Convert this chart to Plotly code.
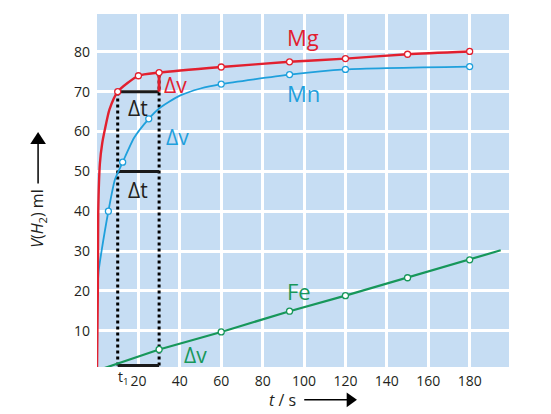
import plotly.graph_objects as go

# hydrogen volume over time for three metals
mg_t = [0, 0.4, 0.6, 1.4, 2.5, 3.8, 6, 10, 20, 30, 60, 93, 120, 150, 180]
mg_v = [0, 20, 40, 52, 57, 60.5, 65.5, 70, 74, 74.8, 76.2, 77.5, 78.3, 79.4, 80.1]
mg_pt_t = [10, 20, 30, 60, 93, 120, 150, 180]
mg_pt_v = [70, 74, 74.8, 76.2, 77.5, 78.3, 79.4, 80.1]

mn_t = [0, 0.8, 2.2, 5.5, 8.7, 12.4, 18, 25, 30, 40, 50, 60, 93, 120, 180]
mn_v = [18, 25, 30, 40, 48, 52.3, 58.5, 63.2, 65.8, 69.0, 70.8, 71.9, 74.3, 75.6, 76.3]
mn_pt_t = [5.5, 12.4, 25, 60, 93, 120, 180]
mn_pt_v = [40, 52.3, 63.2, 71.9, 74.3, 75.6, 76.3]

fe_t = [0, 30, 60, 93, 120, 150, 180, 195]
fe_v = [0, 5.3, 9.7, 14.9, 18.8, 23.3, 27.8, 30.2]
fe_pt_t = [30, 60, 93, 120, 150, 180]
fe_pt_v = [5.3, 9.7, 14.9, 18.8, 23.3, 27.8]

x_ticks = [20, 40, 60, 80, 100, 120, 140, 160, 180]
y_ticks = [10, 20, 30, 40, 50, 60, 70, 80]

t1, t2 = 10, 30
dv_low, dv_high = 70, 74.8
mid_level = 50
base_level = 1.3

RED = '#e2202f'
BLUE = '#1fa0dc'
GREEN = '#17975a'
TXT = '#231f20'
FONT = 'Open Sans'

fig = go.Figure()

def add_series(t, v, pt_t, pt_v, color, width, shape):
    fig.add_trace(go.Scatter(x=t, y=v, mode='lines',
                             line=dict(color=color, width=width, shape=shape, smoothing=0.6),
                             hoverinfo='skip'))
    fig.add_trace(go.Scatter(x=pt_t, y=pt_v, mode='markers',
                             marker=dict(symbol='circle', size=6, color='white',
                                         line=dict(color=color, width=1.3))))

# dotted verticals and delta bars
fig.add_trace(go.Scatter(x=[t1, t1], y=[base_level, dv_low], mode='lines',
                         line=dict(color='black', width=3, dash='dot')))
fig.add_trace(go.Scatter(x=[t2, t2], y=[base_level, dv_high], mode='lines',
                         line=dict(color='black', width=3, dash='dot')))
for lvl in [dv_low, mid_level, base_level]:
    fig.add_trace(go.Scatter(x=[t1, t2], y=[lvl, lvl], mode='lines',
                             line=dict(color='#1a1a1a', width=3)))
fig.add_trace(go.Scatter(x=[t2, t2], y=[dv_low, dv_high], mode='lines',
                         line=dict(color=RED, width=3)))

add_series(fe_t, fe_v, fe_pt_t, fe_pt_v, GREEN, 2.2, 'linear')
add_series(mn_t, mn_v, mn_pt_t, mn_pt_v, BLUE, 1.8, 'spline')
add_series(mg_t, mg_v, mg_pt_t, mg_pt_v, RED, 2.4, 'spline')

def label(x, y, text, color, size, **kw):
    fig.add_annotation(x=x, y=y, text=text, showarrow=False,
                       font=dict(family=FONT, size=size, color=color), **kw)

label(20, 66, 'Δt', TXT, 21)
label(20, 45.4, 'Δt', TXT, 21)
label(31.5, 71.7, 'Δv', RED, 21, xanchor='left')
label(39, 58.7, 'Δv', BLUE, 21)
label(47.8, 3.8, 'Δv', GREEN, 21)
label(99.5, 83.8, 'Mg', RED, 22)
label(99.5, 69.7, 'Mn', BLUE, 22)
label(97.6, 19.9, 'Fe', GREEN, 22)

# t1 under the axis
fig.add_annotation(x=t1, y=0, yref='paper', xshift=6, yshift=-10, yanchor='middle',
                   text='t<sub>1</sub>', showarrow=False,
                   font=dict(family=FONT, size=14, color=TXT))

# axis titles
fig.add_annotation(x=-0.143, y=0.42, xref='paper', yref='paper', textangle=-90,
                   xanchor='center', yanchor='middle',
                   text='<i>V</i>(<i>H</i><sub>2</sub>) ml', showarrow=False,
                   font=dict(family=FONT, size=16, color=TXT))
fig.add_annotation(x=0.451, y=-0.093, xref='paper', yref='paper',
                   xanchor='center', yanchor='middle',
                   text='<i>t</i> / s', showarrow=False,
                   font=dict(family=FONT, size=16, color=TXT))

# arrows next to the axis titles (shapes in paper space)
fig.add_shape(type='line', xref='paper', yref='paper', x0=-0.143, x1=-0.143,
              y0=0.52, y1=0.64, line=dict(color='black', width=1.5))
fig.add_shape(type='path', xref='paper', yref='paper',
              path='M -0.162 0.632 L -0.124 0.632 L -0.143 0.666 Z',
              fillcolor='black', line=dict(width=0))
fig.add_shape(type='line', xref='paper', yref='paper', x0=0.503, x1=0.612,
              y0=-0.093, y1=-0.093, line=dict(color='black', width=1.5))
fig.add_shape(type='path', xref='paper', yref='paper',
              path='M 0.606 -0.072 L 0.606 -0.114 L 0.631 -0.093 Z',
              fillcolor='black', line=dict(width=0))

fig.update_layout(
    width=543, height=406,
    margin=dict(l=89, r=42, t=6, b=47),
    paper_bgcolor='white',
    plot_bgcolor='#c6ddf3',
    showlegend=False,
    font=dict(family=FONT, size=14, color=TXT),
    xaxis=dict(range=[0, 199], tickvals=x_ticks, showgrid=True, gridcolor='white',
               gridwidth=3, zeroline=False, showline=False, ticks='',
               ticklabelstandoff=4),
    yaxis=dict(range=[0.9, 89.5], tickvals=y_ticks, showgrid=True, gridcolor='white',
               gridwidth=3, zeroline=False, showline=False, ticks='',
               ticklabelstandoff=6),
)

fig.write_html("out.html")
